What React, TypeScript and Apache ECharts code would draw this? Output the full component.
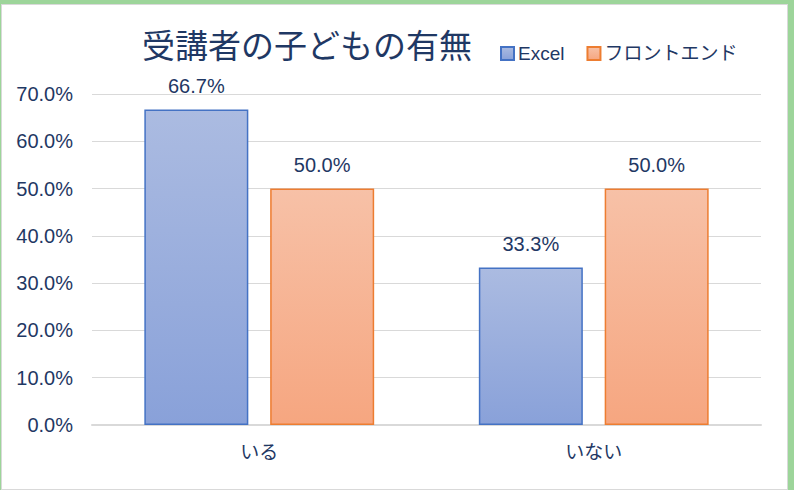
import React, { useEffect, useRef } from "react";
import * as echarts from "echarts";

const categories = ["いる", "いない"];
const seriesNames = ["Excel", "フロントエンド"];
const excelValues = [66.7, 33.3];
const frontendValues = [50.0, 50.0];
const yTicks = { min: 0, max: 70, interval: 10 };
const titleText = "受講者の子どもの有無";

const TEXT = "#1f3864";
const FONT = "'Liberation Sans', 'Noto Sans CJK JP', sans-serif";

export default function App() {
  const ref = useRef<HTMLDivElement>(null);
  useEffect(() => {
    if (!ref.current) return;
    const chart = echarts.init(ref.current, undefined, { renderer: "svg" });
    const grad = (top: string, bottom: string) =>
      new echarts.graphic.LinearGradient(0, 0, 0, 1, [
        { offset: 0, color: top },
        { offset: 1, color: bottom },
      ]);
    const label = {
      show: true,
      position: "top" as const,
      distance: 14,
      fontSize: 20,
      color: TEXT,
      fontFamily: FONT,
      formatter: (p: any) => Number(p.value).toFixed(1) + "%",
    };
    chart.setOption({
      animation: false,
      backgroundColor: "transparent",
      textStyle: { fontFamily: FONT, color: TEXT },
      title: {
        text: titleText,
        left: 142,
        top: 27,
        padding: 0,
        textStyle: {
          fontSize: 33,
          fontWeight: "normal",
          color: TEXT,
          fontFamily: "'Noto Sans CJK JP', sans-serif",
        },
      },
      legend: {
        left: 500,
        top: 44,
        padding: 0,
        itemWidth: 13,
        itemHeight: 13,
        itemGap: 22,
        icon: "rect",
        textStyle: { fontSize: 19, color: TEXT, fontFamily: FONT, padding: [0, 0, 0, -1] },
        data: seriesNames,
      },
      grid: { left: 92, right: 33, top: 94, bottom: 65, containLabel: false },
      xAxis: {
        type: "category",
        data: categories,
        axisTick: { show: false },
        axisLine: { lineStyle: { color: "#d9d9d9", width: 2 } },
        axisLabel: { fontSize: 19, color: TEXT, margin: 18, fontFamily: FONT },
      },
      yAxis: {
        type: "value",
        min: yTicks.min,
        max: yTicks.max,
        interval: yTicks.interval,
        axisLine: { show: false },
        axisTick: { show: false },
        splitLine: { lineStyle: { color: "#d9d9d9", width: 1 } },
        axisLabel: {
          fontSize: 20,
          color: TEXT,
          margin: 19,
          fontFamily: FONT,
          formatter: (v: number) => v.toFixed(1) + "%",
        },
      },
      series: [
        {
          name: seriesNames[0],
          type: "bar",
          data: excelValues,
          barWidth: 104,
          barGap: "21%",
          itemStyle: {
            color: grad("#abbbe1", "#89a1d9"),
            borderColor: "#4472c4",
            borderWidth: 1.5,
          },
          label,
        },
        {
          name: seriesNames[1],
          type: "bar",
          data: frontendValues,
          barWidth: 104,
          barGap: "21%",
          itemStyle: {
            color: grad("#f7c1a7", "#f6a680"),
            borderColor: "#ed7d31",
            borderWidth: 1.5,
          },
          label,
        },
      ],
    });
    return () => chart.dispose();
  }, []);

  return (
    <div
      style={{
        position: "fixed",
        left: 0,
        top: 0,
        width: 794,
        height: 490,
        background: "#9dd59a",
        overflow: "hidden",
      }}
    >
      <div
        style={{
          position: "absolute",
          left: 1,
          top: 4,
          width: 787,
          height: 486,
          background: "#ffffff",
          border: "1px solid #d9d9d9",
          boxSizing: "border-box",
        }}
      />
      <div
        ref={ref}
        style={{ position: "absolute", left: 0, top: 0, width: 794, height: 490 }}
      />
    </div>
  );
}
